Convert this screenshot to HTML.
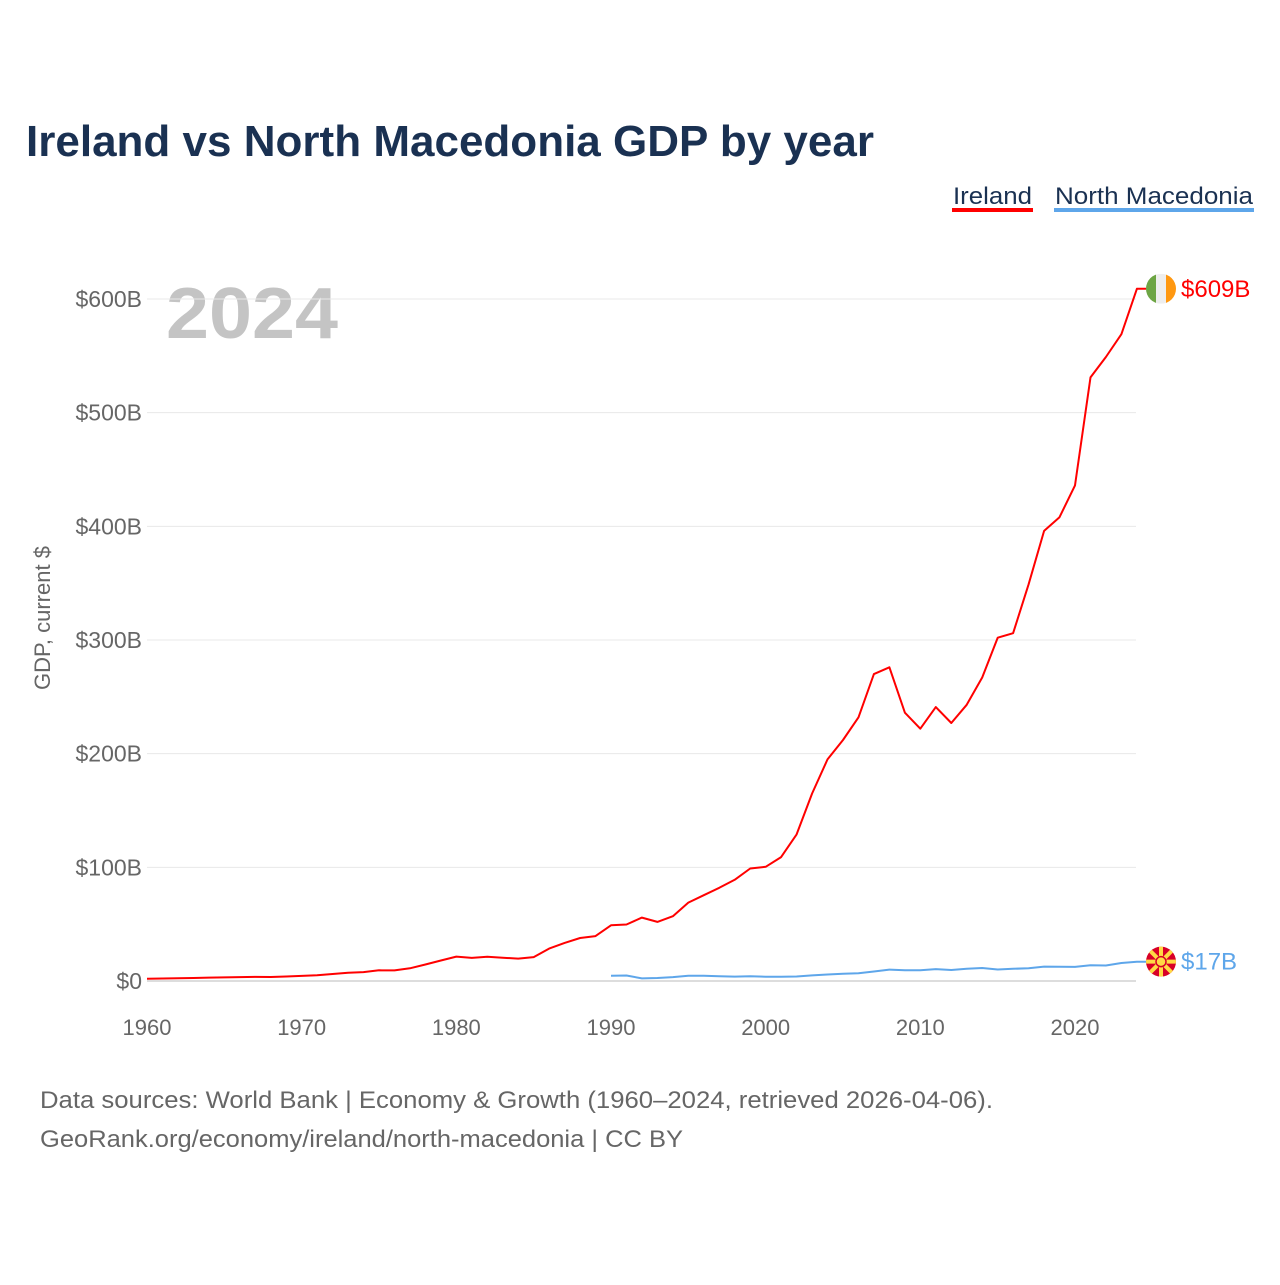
<!DOCTYPE html>
<html><head><meta charset="utf-8"><style>
body{margin:0;background:#fff;font-family:"Liberation Sans",sans-serif}
</style></head><body>
<svg width="1280" height="1280" viewBox="0 0 1280 1280" id="chart" xmlns="http://www.w3.org/2000/svg">
<rect width="1280" height="1280" fill="#fff"/>
<text x="26" y="156" font-size="44" font-weight="bold" fill="#1a3152" textLength="848" lengthAdjust="spacingAndGlyphs">Ireland vs North Macedonia GDP by year</text>
<g><text x="953" y="204" font-size="24" fill="#1a3152" textLength="79" lengthAdjust="spacingAndGlyphs">Ireland</text><rect x="952" y="208" width="81" height="4" fill="#ff0000"/></g>
<g><text x="1055" y="204" font-size="24" fill="#1a3152" textLength="198" lengthAdjust="spacingAndGlyphs">North Macedonia</text><rect x="1054" y="208" width="200" height="4" fill="#5ea6ea"/></g>
<text x="166" y="338" font-size="72" font-weight="bold" fill="#c4c4c4" textLength="172" lengthAdjust="spacingAndGlyphs">2024</text>
<g id="grid"></g><g id="xaxis"></g><g id="lines"></g>
<text transform="translate(50,618) rotate(-90)" text-anchor="middle" font-size="22" fill="#666">GDP, current $</text>
<text x="40" y="1108" font-size="24" fill="#666" textLength="953" lengthAdjust="spacingAndGlyphs">Data sources: World Bank | Economy &amp; Growth (1960–2024, retrieved 2026-04-06).</text>
<text x="40" y="1147" font-size="24" fill="#666" textLength="643" lengthAdjust="spacingAndGlyphs">GeoRank.org/economy/ireland/north-macedonia | CC BY</text>
</svg>
<script>
const years=[];for(let y=1960;y<=2024;y++)years.push(y);
const ireland=[2.0,2.2,2.4,2.6,3.0,3.2,3.4,3.6,3.5,4.0,4.5,5.0,6.2,7.3,7.8,9.4,9.3,11.2,14.5,18,21.5,20.3,21.3,20.5,19.7,21,28.5,33.5,37.8,39.5,49,49.7,55.8,52,57,69,75.5,82,89,99,100.5,109,129,165,195,212,232,270,276,236,222,241,227,243,267,302,306,349,396,408,436,531,549,569,609];
const nmYears=[];for(let y=1990;y<=2024;y++)nmYears.push(y);
const northMacedonia=[4.7,4.8,2.3,2.6,3.4,4.6,4.7,4.1,3.9,4.1,3.8,3.8,4.0,4.9,5.7,6.3,6.9,8.4,10.0,9.4,9.4,10.5,9.7,10.8,11.4,10.1,10.7,11.3,12.7,12.6,12.4,13.9,13.6,15.8,17];
const yTicks=[0,100,200,300,400,500,600];
const yTickLabels=["$0","$100B","$200B","$300B","$400B","$500B","$600B"];
const xTicks=[1960,1970,1980,1990,2000,2010,2020];
const NS="http://www.w3.org/2000/svg";
const X=y=>147+(y-1960)*928/60, Y=v=>981-v*682/600;
function mk(t,a,p){const e=document.createElementNS(NS,t);for(const k in a)e.setAttribute(k,a[k]);document.getElementById(p).appendChild(e);return e;}
yTicks.forEach((v,i)=>{
 const l=mk('line',{x1:147,x2:1136,y1:Y(v),y2:Y(v),stroke:i==0?'#ddd':'#e8e8e8','stroke-width':i==0?2:1},'grid');
 
 
 const t=mk('text',{x:142,y:Y(v)+8,'text-anchor':'end','font-size':23,fill:'#666'},'grid');t.textContent=yTickLabels[i];
 
 
});
xTicks.forEach(v=>{const t=mk('text',{x:X(v),y:1035,'text-anchor':'middle','font-size':22,fill:'#666'},'xaxis');t.textContent=v;
 
 });
function line(xs,vs,c,name){
 let d=xs.map((y,i)=>(i?'L':'M')+X(y).toFixed(1)+','+Y(vs[i]).toFixed(1)).join(' ');
 d+=' L1146,'+Y(vs[vs.length-1]).toFixed(1);
 const p=mk('path',{d:d,fill:'none',stroke:c,'stroke-width':2,'stroke-linejoin':'round'},'lines');
 
 
}
line(years,ireland,'#ff0000','ireland-line');
line(nmYears,northMacedonia,'#5ea6ea','north-macedonia-line');
const iy=Y(ireland[ireland.length-1]);
const g1=mk('g',{},'lines');


g1.innerHTML=`<clipPath id="c1"><circle cx="1161" cy="${iy}" r="15"/></clipPath><g clip-path="url(#c1)"><rect x="1146" y="${iy-15}" width="10" height="30" fill="#6da544"/><rect x="1156" y="${iy-15}" width="10" height="30" fill="#eee"/><rect x="1166" y="${iy-15}" width="10" height="30" fill="#ff9811"/></g>`;
const t1=mk('text',{x:1181,y:iy+8,'font-size':24,fill:'#ff0000'},'lines');t1.textContent='$'+ireland[ireland.length-1]+'B';


const ny=Y(northMacedonia[northMacedonia.length-1]);
const g2=mk('g',{},'lines');


let rays='';for(let a=0;a<8;a++){const r=a*Math.PI/4;rays+=`<line x1="1161" y1="${ny}" x2="${1161+20*Math.cos(r)}" y2="${ny+20*Math.sin(r)}" stroke="#ffda44" stroke-width="4"/>`;}
g2.innerHTML=`<clipPath id="c2"><circle cx="1161" cy="${ny}" r="15"/></clipPath><g clip-path="url(#c2)"><rect x="1146" y="${ny-15}" width="30" height="30" fill="#d80027"/>${rays}<circle cx="1161" cy="${ny}" r="5" fill="#ffda44" stroke="#d80027" stroke-width="1.5"/></g>`;
const t2=mk('text',{x:1181,y:ny+8,'font-size':24,fill:'#5ea6ea'},'lines');t2.textContent='$'+northMacedonia[northMacedonia.length-1]+'B';


</script>
</body></html>
